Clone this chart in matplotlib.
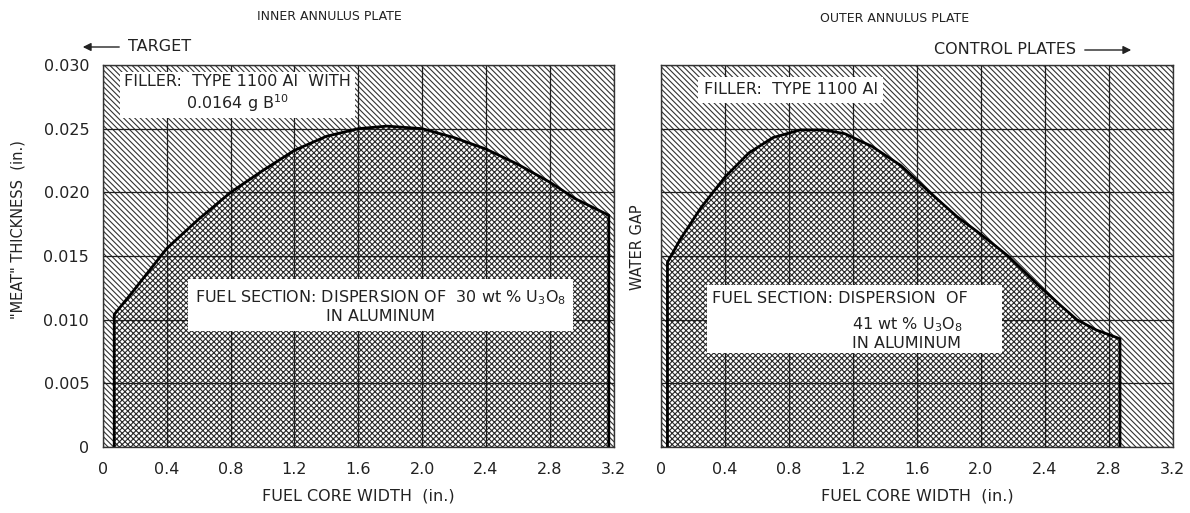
import matplotlib
matplotlib.use("Agg")
import matplotlib.pyplot as plt
from matplotlib.patches import FancyArrowPatch, Rectangle

# fuel section outline for each plate: width across the core (in.) vs meat thickness (in.)
inner_x = [0.07, 0.07, 0.18, 0.40, 0.60, 0.80, 1.00, 1.20, 1.40, 1.60, 1.78,
           2.00, 2.20, 2.40, 2.60, 2.80, 2.96, 3.17, 3.17]
inner_y = [0.0, 0.0104, 0.0121, 0.0156, 0.0179, 0.0200, 0.0217, 0.0233, 0.0244,
           0.0250, 0.0252, 0.0250, 0.0243, 0.0234, 0.0222, 0.0208, 0.0195, 0.0182, 0.0]

outer_x = [0.04, 0.04, 0.12, 0.25, 0.40, 0.55, 0.70, 0.87, 1.02, 1.15, 1.32,
           1.50, 1.68, 1.85, 2.00, 2.17, 2.36, 2.50, 2.60, 2.72, 2.87, 2.87]
outer_y = [0.0, 0.0145, 0.0163, 0.0188, 0.0212, 0.0231, 0.0243, 0.0249, 0.0249,
           0.0246, 0.0236, 0.0221, 0.0200, 0.0181, 0.0167, 0.0150, 0.0127, 0.0111,
           0.0100, 0.0092, 0.0085, 0.0]

x_ticks = [0, 0.4, 0.8, 1.2, 1.6, 2.0, 2.4, 2.8, 3.2]
x_labels = ["0", "0.4", "0.8", "1.2", "1.6", "2.0", "2.4", "2.8", "3.2"]
y_ticks = [0, 0.005, 0.010, 0.015, 0.020, 0.025, 0.030]
y_labels = ["0", "0.005", "0.010", "0.015", "0.020", "0.025", "0.030"]

ink = "#222222"
fs = 11.5
plt.rcParams["hatch.linewidth"] = 0.8
plt.rcParams["font.family"] = ["DejaVu Sans"]

fig = plt.figure(figsize=(11.9, 5.13), dpi=100)
ax1 = fig.add_axes([0.0866, 0.1287, 0.4290, 0.7446])
ax2 = fig.add_axes([0.5555, 0.1287, 0.4300, 0.7446])


def draw_plate(ax, xs, ys, show_y):
    ax.set_xlim(0, 3.2)
    ax.set_ylim(0, 0.030)
    # filler everywhere, fuel section on top of it
    ax.fill_between([0, 3.2], 0, 0.030, facecolor="white", edgecolor="#333333",
                    hatch="\\" * 6, linewidth=0, zorder=1)
    ax.fill(xs, ys, facecolor="white", edgecolor="#2a2a2a", hatch="x" * 6,
            linewidth=0, zorder=2)
    ax.plot(xs, ys, color="black", linewidth=2.0, zorder=4)

    ax.set_xticks(x_ticks)
    ax.set_xticklabels(x_labels)
    ax.set_yticks(y_ticks)
    if show_y:
        ax.set_yticklabels(y_labels)
    else:
        ax.set_yticklabels([])
    ax.tick_params(length=0, labelsize=fs, labelcolor=ink)
    ax.tick_params(axis="x", pad=11)
    ax.tick_params(axis="y", pad=10)
    ax.set_axisbelow(False)
    ax.grid(True, color="#1e1e1e", linewidth=0.9, zorder=3)
    for s in ax.spines.values():
        s.set_color("#333333")
        s.set_linewidth(1.0)
        s.set_zorder(5)
    ax.set_xlabel("FUEL CORE WIDTH  (in.)", fontsize=fs, color=ink, labelpad=8)


draw_plate(ax1, inner_x, inner_y, True)
draw_plate(ax2, outer_x, outer_y, False)

ax1.text(0.263, 0.924, "FILLER:  TYPE 1100 Al  WITH\n0.0164 g B$^{10}$",
         transform=ax1.transAxes, ha="center", va="center", fontsize=fs,
         color=ink, linespacing=1.2, zorder=6,
         bbox=dict(facecolor="white", edgecolor="none", pad=3))
ax1.text(0.544, 0.369, "FUEL SECTION: DISPERSION OF  30 wt % U$_3$O$_8$\nIN ALUMINUM",
         transform=ax1.transAxes, ha="center", va="center", fontsize=fs,
         color=ink, linespacing=1.2, zorder=6,
         bbox=dict(facecolor="white", edgecolor="none", pad=5))

ax2.text(0.253, 0.935, "FILLER:  TYPE 1100 Al",
         transform=ax2.transAxes, ha="center", va="center", fontsize=fs,
         color=ink, zorder=6, bbox=dict(facecolor="white", edgecolor="none", pad=4))
ax2.add_patch(Rectangle((0.0897, 0.246), 0.577, 0.178, transform=ax2.transAxes,
                        facecolor="white", edgecolor="none", zorder=6))
ax2.text(0.099, 0.39, "FUEL SECTION: DISPERSION  OF", transform=ax2.transAxes,
         ha="left", va="center", fontsize=fs, color=ink, zorder=7)
ax2.text(0.374, 0.298, "41 wt % U$_3$O$_8$\nIN ALUMINUM", transform=ax2.transAxes,
         ha="left", va="center", fontsize=fs, color=ink, linespacing=1.1, zorder=7)

# panel headings and side notes
fig.text(329 / 1190, 1 - 16 / 513, "INNER ANNULUS PLATE", ha="center", va="center",
         fontsize=9, color=ink)
fig.text(895 / 1190, 1 - 18 / 513, "OUTER ANNULUS PLATE", ha="center", va="center",
         fontsize=9, color=ink)
fig.text(18 / 1190, 1 - 230 / 513, '"MEAT" THICKNESS  (in.)', rotation=90,
         ha="center", va="center", fontsize=10.5, color=ink)
fig.text(638 / 1190, 1 - 247 / 513, "WATER GAP", rotation=90,
         ha="center", va="center", fontsize=10.5, color=ink)

fig.text(128 / 1190, 1 - 47 / 513, "TARGET", ha="left", va="center",
         fontsize=fs, color=ink)
fig.patches.append(FancyArrowPatch(
    (122 / 1190, 1 - 47 / 513), (80 / 1190, 1 - 47 / 513),
    transform=fig.transFigure, arrowstyle="-|>", mutation_scale=12,
    color=ink, linewidth=1.0))
fig.text(1076 / 1190, 1 - 50 / 513, "CONTROL PLATES", ha="right", va="center",
         fontsize=fs, color=ink)
fig.patches.append(FancyArrowPatch(
    (1082 / 1190, 1 - 50 / 513), (1134 / 1190, 1 - 50 / 513),
    transform=fig.transFigure, arrowstyle="-|>", mutation_scale=12,
    color=ink, linewidth=1.0))

fig.savefig("out.png", dpi=100, facecolor="white")
